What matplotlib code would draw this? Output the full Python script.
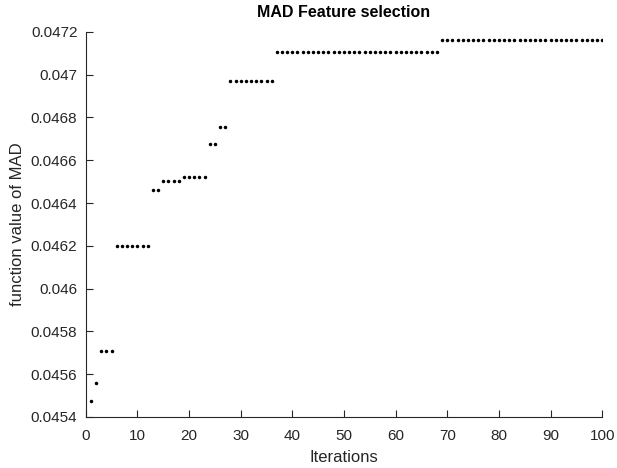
import matplotlib
matplotlib.use("Agg")
import matplotlib.pyplot as plt
from matplotlib.ticker import FuncFormatter

iterations = list(range(1, 101))
mad_values = (
    [0.045475, 0.045560]
    + [0.045710] * 3
    + [0.046200] * 7
    + [0.046460] * 2
    + [0.046505] * 4
    + [0.046520] * 5
    + [0.046675] * 2
    + [0.046755] * 2
    + [0.046970] * 9
    + [0.047105] * 32
    + [0.047160] * 32
)
x_ticks = [0, 10, 20, 30, 40, 50, 60, 70, 80, 90, 100]
y_ticks = [0.0454, 0.0456, 0.0458, 0.046, 0.0462, 0.0464, 0.0466, 0.0468, 0.047, 0.0472]

plt.rcParams['font.family'] = ['Liberation Sans', 'DejaVu Sans']

fig = plt.figure(figsize=(6.17, 4.68), dpi=100)
ax = fig.add_axes([0.139, 0.109, 0.837, 0.823])
ax.plot(iterations, mad_values, linestyle='none', marker='.', markersize=3.0, color='black')

ax.set_xlim(0, 100)
ax.set_ylim(0.0454, 0.0472)
ax.set_xticks(x_ticks)
ax.set_yticks(y_ticks)
ax.yaxis.set_major_formatter(FuncFormatter(lambda v, p: '%g' % round(v, 6)))
ax.spines['top'].set_visible(False)
ax.spines['right'].set_visible(False)
for s in ('left', 'bottom'):
    ax.spines[s].set_linewidth(0.8)
    ax.spines[s].set_color('#262626')
ax.tick_params(direction='in', length=5, width=0.8, labelsize=11, colors='#262626')
ax.tick_params(axis='x', pad=9)
ax.tick_params(axis='y', pad=6)
ax.set_xlabel('Iterations', fontsize=12, color='#262626', labelpad=5)
ax.set_ylabel('function value of MAD', fontsize=12, color='#262626', labelpad=4)
ax.set_title('MAD Feature selection', fontsize=11.5, fontweight='bold', pad=11)

fig.savefig('out.png', dpi=100)
